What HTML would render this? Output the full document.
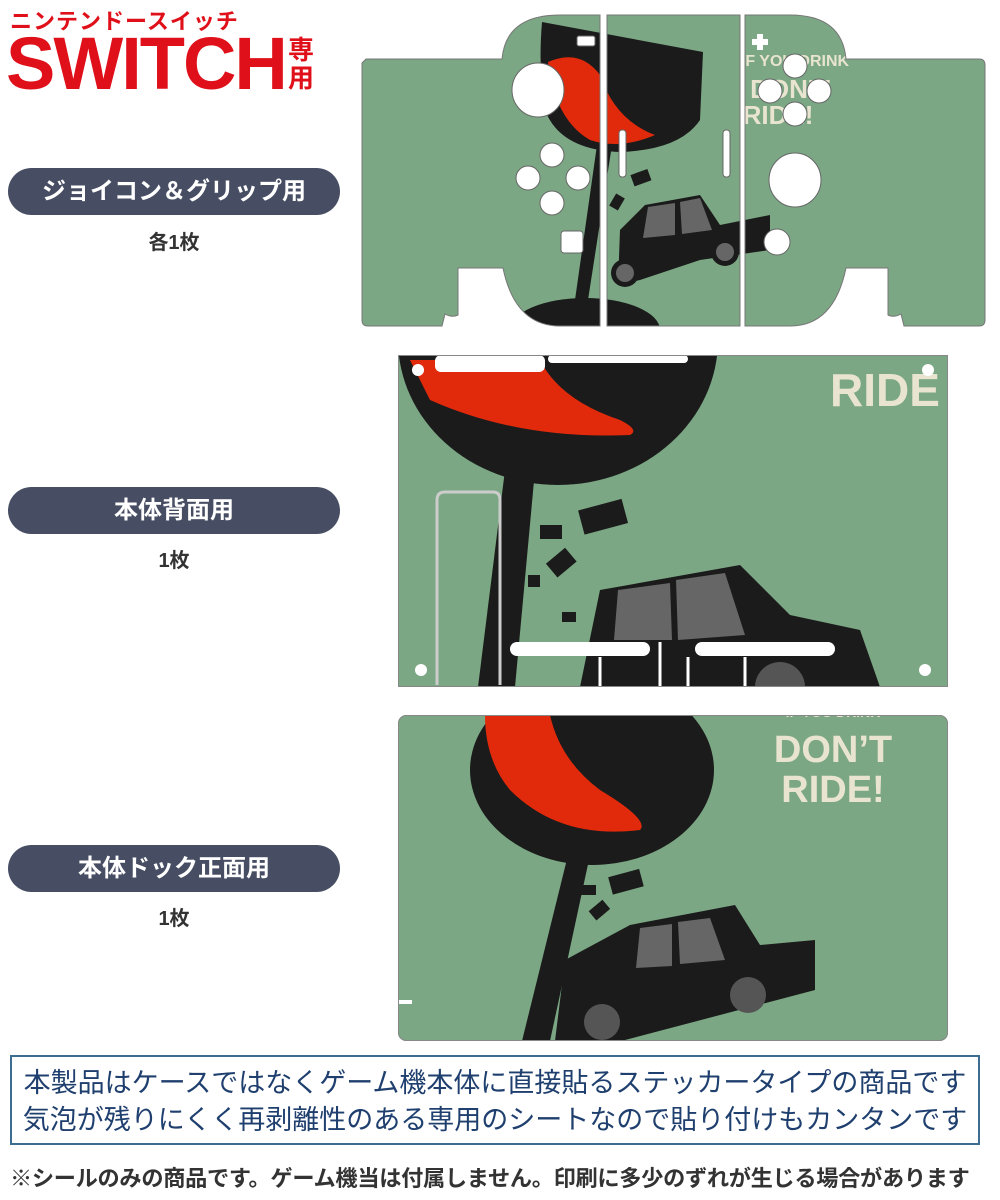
<!DOCTYPE html>
<html><head><meta charset="utf-8">
<style>
body{margin:0;width:1000px;height:1200px;background:#fff;position:relative;font-family:"Liberation Sans","Noto Sans CJK JP",sans-serif;overflow:hidden}
.pill{position:absolute;left:8px;width:332px;height:47px;border-radius:24px;background:#474e63;color:#fff;font-weight:bold;font-size:24px;line-height:47px;text-align:center}
.cnt{position:absolute;left:8px;width:332px;text-align:center;font-size:20px;color:#333;font-weight:bold}
svg{position:absolute;left:0;top:0}
</style></head><body>
<div style="position:absolute;left:10px;top:4px;color:#e0101a;font-weight:bold;font-size:22px;letter-spacing:1px">ニンテンドースイッチ</div>
<div style="position:absolute;left:6px;top:24px;color:#e0101a;font-weight:bold;font-size:74px;line-height:80px;letter-spacing:-2px">SWITCH</div>
<div style="position:absolute;left:288px;top:36px;color:#e0101a;font-weight:bold;font-size:26px;line-height:28px;width:28px">専<br>用</div>

<div class="pill" style="top:168px">ジョイコン＆グリップ用</div>
<div class="cnt" style="top:226px">各1枚</div>
<div class="pill" style="top:487px">本体背面用</div>
<div class="cnt" style="top:544px">1枚</div>
<div class="pill" style="top:845px">本体ドック正面用</div>
<div class="cnt" style="top:902px">1枚</div>

<svg width="1000" height="1200" viewBox="0 0 1000 1200">
<defs>
<clipPath id="cj"><path d="M366 59 L502 59 Q506 15 560 15 L600 15 L600 326 L560 326 Q515 326 503 268 L458 268 L458 315 Q452 318 445 314 L442 326 L368 326 Q362 326 362 320 L362 63 Z
M607 15 L740 15 L740 326 L607 326 Z
M745 15 L790 15 Q842 15 846 59 L979 59 Q985 59 985 65 L985 320 Q985 326 979 326 L904 326 L901 314 Q894 318 888 315 L888 268 L846 268 Q834 326 790 326 L745 326 Z"/></clipPath>
<clipPath id="cb"><rect x="398" y="355" width="550" height="332"/></clipPath>
<clipPath id="cd"><rect x="398" y="715" width="550" height="326" rx="8"/></clipPath>
</defs>
<!-- joycon -->
<g clip-path="url(#cj)">
<rect x="360" y="10" width="630" height="320" fill="#7ba784"/>
<path d="M542 22 L703 52 L700 120 Q680 150 620 152 Q560 150 545 110 Q538 70 542 22 Z" fill="#1b1b1b"/>
<path d="M548 62 Q580 48 600 75 Q615 120 655 135 Q620 150 590 140 Q555 120 548 62 Z" fill="#e12a0b"/>
<polygon points="597,145 612,145 588,300 575,300" fill="#1b1b1b"/>
<ellipse cx="585" cy="330" rx="75" ry="32" fill="#1b1b1b"/>
<path d="M645 205 L700 195 L720 225 L770 215 L770 250 L700 260 L640 280 L618 285 L620 230 Z" fill="#1b1b1b"/>
<polygon points="648,207 675,203 675,235 643,238" fill="#666"/><polygon points="680,202 700,198 712,230 682,234" fill="#666"/>
<circle cx="625" cy="273" r="14" fill="#1b1b1b"/><circle cx="625" cy="273" r="9" fill="#666"/>
<circle cx="725" cy="252" r="14" fill="#1b1b1b"/><circle cx="725" cy="252" r="9" fill="#666"/>
<rect x="632" y="172" width="18" height="12" fill="#1b1b1b" transform="rotate(-20 640 178)"/>
<rect x="612" y="195" width="10" height="14" fill="#1b1b1b" transform="rotate(30 617 202)"/>
<rect x="620" y="230" width="8" height="7" fill="#1b1b1b"/>
<text x="795" y="66" font-size="16" font-weight="bold" fill="#e8e4cf" text-anchor="middle">IF YOU DRINK</text>
<text x="790" y="98" font-size="26" font-weight="bold" fill="#e8e4cf" text-anchor="middle">DON'T</text>
<text x="778" y="124" font-size="26" font-weight="bold" fill="#e8e4cf" text-anchor="middle">RIDE!</text>
<rect x="600" y="10" width="7" height="320" fill="#fff"/><rect x="740" y="10" width="5" height="320" fill="#fff"/>
</g>
<path d="M366 59 L502 59 Q506 15 560 15 L600 15 L600 326 L560 326 Q515 326 503 268 L458 268 L458 315 Q452 318 445 314 L442 326 L368 326 Q362 326 362 320 L362 63 Z
M607 15 L740 15 L740 326 L607 326 Z
M745 15 L790 15 Q842 15 846 59 L979 59 Q985 59 985 65 L985 320 Q985 326 979 326 L904 326 L901 314 Q894 318 888 315 L888 268 L846 268 Q834 326 790 326 L745 326 Z" fill="none" stroke="#777" stroke-width="1"/>
<g fill="#fff" stroke="#666" stroke-width="1">
<ellipse cx="538" cy="90" rx="26" ry="27"/><circle cx="552" cy="155" r="12"/><circle cx="528" cy="178" r="12"/><circle cx="578" cy="178" r="12"/><circle cx="552" cy="203" r="12"/>
<rect x="561" y="231" width="22" height="22" rx="3"/><rect x="577" y="36" width="18" height="10" rx="2"/>
<ellipse cx="795" cy="180" rx="26" ry="27"/><circle cx="795" cy="66" r="12"/><circle cx="770" cy="91" r="12"/><circle cx="819" cy="91" r="12"/><circle cx="795" cy="114" r="12"/>
<circle cx="777" cy="242" r="13"/><rect x="619" y="130" width="7" height="47" rx="3"/><rect x="723" y="130" width="7" height="47" rx="3"/>
</g>
<path d="M757 34 h6 v5 h5 v6 h-5 v5 h-6 v-5 h-5 v-6 h5 Z" fill="#fff"/>
<!-- back -->
<g clip-path="url(#cb)">
<rect x="398" y="355" width="550" height="332" fill="#7ba784"/>
<ellipse cx="558" cy="340" rx="160" ry="145" fill="#1b1b1b"/>
<path d="M410 360 L540 360 Q560 400 620 420 Q640 430 630 435 Q520 440 430 400 Z" fill="#e12a0b"/>
<polygon points="505,470 535,470 515,687 478,687" fill="#1b1b1b"/>
<polygon points="600,590 740,565 790,615 860,630 880,687 580,687" fill="#1b1b1b"/>
<polygon points="618,590 670,583 672,640 614,640" fill="#666"/><polygon points="676,580 725,573 745,635 678,640" fill="#666"/>
<circle cx="780" cy="687" r="25" fill="#555"/>
<rect x="580" y="505" width="45" height="25" fill="#1b1b1b" transform="rotate(-15 600 515)"/>
<rect x="540" y="525" width="22" height="14" fill="#1b1b1b"/><rect x="550" y="555" width="25" height="18" fill="#1b1b1b" transform="rotate(-40 560 565)"/>
<rect x="528" y="575" width="12" height="12" fill="#1b1b1b"/><rect x="562" y="612" width="14" height="10" fill="#1b1b1b"/>
<text x="885" y="406" font-size="46" font-weight="bold" fill="#e8e4cf" text-anchor="middle">RIDE</text>
<rect x="435" y="355" width="110" height="17" rx="6" fill="#fff"/><rect x="548" y="355" width="140" height="8" rx="4" fill="#fff"/>
<path d="M437 685 L437 500 Q437 492 445 492 L493 492 Q500 492 500 500 L500 685" fill="none" stroke="#ccc" stroke-width="3"/>
<rect x="510" y="642" width="140" height="14" rx="7" fill="#fff"/><rect x="695" y="642" width="140" height="14" rx="7" fill="#fff"/>
<path d="M600 657 L600 687 M688 657 L688 687 M745 657 L745 687 M660 642 L660 687" stroke="#fff" stroke-width="3"/>
<circle cx="418" cy="370" r="6" fill="#fff"/><circle cx="928" cy="370" r="6" fill="#fff"/><circle cx="421" cy="670" r="6" fill="#fff"/><circle cx="925" cy="670" r="6" fill="#fff"/>
</g>
<rect x="398.5" y="355.5" width="549" height="331" fill="none" stroke="#888" stroke-width="1"/>
<!-- dock -->
<g clip-path="url(#cd)">
<rect x="398" y="715" width="550" height="326" fill="#7ba784"/>
<ellipse cx="592" cy="770" rx="122" ry="95" fill="#1b1b1b"/>
<path d="M485 715 L550 715 Q560 760 600 790 Q650 820 640 830 Q560 840 510 790 Q485 760 485 715 Z" fill="#e12a0b"/>
<polygon points="568,855 590,855 550,1041 522,1041" fill="#1b1b1b"/>
<polygon points="630,925 735,905 760,945 815,940 815,990 625,1040 555,1041 565,960" fill="#1b1b1b"/>
<polygon points="640,928 672,924 672,966 636,968" fill="#666"/><polygon points="678,922 710,918 725,960 680,964" fill="#666"/>
<circle cx="748" cy="995" r="18" fill="#555"/><circle cx="602" cy="1022" r="18" fill="#555"/>
<rect x="610" y="873" width="32" height="18" fill="#1b1b1b" transform="rotate(-15 625 882)"/>
<rect x="580" y="885" width="16" height="10" fill="#1b1b1b"/><rect x="590" y="905" width="18" height="12" fill="#1b1b1b" transform="rotate(-40 598 910)"/>
<rect x="596" y="945" width="12" height="8" fill="#1b1b1b"/>
<text x="833" y="717" font-size="14" font-weight="bold" fill="#e8e4cf" text-anchor="middle">IF YOU DRINK</text>
<text x="833" y="762" font-size="38" font-weight="bold" fill="#e8e4cf" text-anchor="middle">DON’T</text>
<text x="833" y="802" font-size="38" font-weight="bold" fill="#e8e4cf" text-anchor="middle">RIDE!</text>
<rect x="398" y="1000" width="14" height="4" fill="#fff"/>
</g>
<rect x="398.5" y="715.5" width="549" height="325" rx="8" fill="none" stroke="#888" stroke-width="1"/>
</svg>

<div style="position:absolute;left:10px;top:1055px;width:970px;height:90px;border:2px solid #3d6e92;color:#1f3f6e;font-size:27px;line-height:37px;text-align:center;padding-top:8px;box-sizing:border-box;white-space:nowrap">本製品はケースではなくゲーム機本体に直接貼るステッカータイプの商品です<br>気泡が残りにくく再剥離性のある専用のシートなので貼り付けもカンタンです</div>
<div style="position:absolute;left:10px;top:1161px;width:980px;font-size:22.2px;color:#333;font-weight:bold;white-space:nowrap;letter-spacing:-0.3px">※シールのみの商品です。ゲーム機当は付属しません。印刷に多少のずれが生じる場合があります</div>
</body></html>
